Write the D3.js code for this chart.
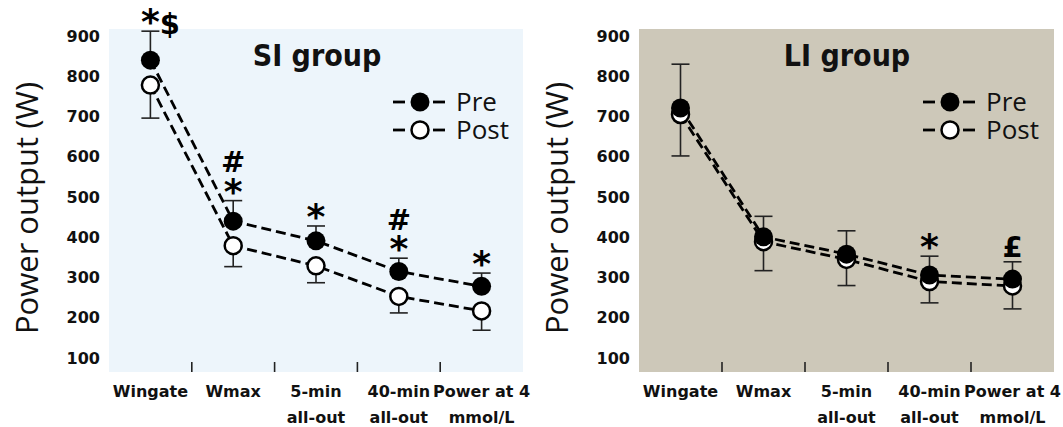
<!DOCTYPE html>
<html>
<head>
<meta charset="utf-8">
<script src="https://cdn.jsdelivr.net/npm/d3@7"></script>
<style>
  html, body { margin: 0; padding: 0; background: #ffffff; }
  svg { display: block; }
</style>
</head>
<body>
<svg id="chart" width="1063" height="427"></svg>
<script>
// ---------------- data ----------------
const categories = ["Wingate", "Wmax", "5-min all-out", "40-min all-out", "Power at 4 mmol/L"];
const categoryLabels = [["Wingate"], ["Wmax"], ["5-min", "all-out"], ["40-min", "all-out"], ["Power at 4", "mmol/L"]];
const yTicks = [100, 200, 300, 400, 500, 600, 700, 800, 900];
const seriesNames = ["Pre", "Post"];

const siPre      = [840, 440, 391, 315, 278];
const siPreErr   = [72, 51, 37, 33, 33];
const siPost     = [778, 379, 329, 253, 217];
const siPostErr  = [82, 52, 42, 41, 48];
const siMarks    = [["*$"], ["#", "*"], ["*"], ["#", "*"], ["*"]];

const liPre      = [721, 401, 358, 306, 296];
const liPreErr   = [109, 51, 58, 47, 43];
const liPost     = [705, 389, 345, 290, 279];
const liPostErr  = [103, 72, 65, 53, 57];
const liMarks    = [[], [], [], ["*"], ["£"]];

const panelTitles = ["SI group", "LI group"];

// ---------------- layout ----------------
const svg = d3.select("#chart");
const plotTop = 29, plotBottom = 372;
const panels = [
  { title: panelTitles[0], pre: siPre, preErr: siPreErr, post: siPost, postErr: siPostErr, marks: siMarks, bg: "#EDF5FB", x0: 109, x1: 523 },
  { title: panelTitles[1], pre: liPre, preErr: liPreErr, post: liPost, postErr: liPostErr, marks: liMarks, bg: "#CDC8B9", x0: 639, x1: 1054 }
];

const y = d3.scaleLinear().domain([100, 900]).range([358, 36]);
const bold = "'DejaVu Sans', sans-serif";
const boldCond = "'DejaVu Sans Condensed', 'DejaVu Sans', sans-serif";
const thin = "'Open Sans', 'Noto Sans', sans-serif";

panels.forEach(p => {
  const g = svg.append("g");
  const x = d3.scaleBand().domain(categories).range([p.x0, p.x1]).paddingInner(0).paddingOuter(0);
  const cx = c => x(c) + x.bandwidth() / 2;

  // background
  g.append("rect").attr("x", p.x0).attr("y", plotTop)
    .attr("width", p.x1 - p.x0).attr("height", plotBottom - plotTop)
    .attr("fill", p.bg);

  // x separators (ticks between categories)
  g.selectAll("line.sep").data(categories.slice(1)).join("line")
    .attr("x1", d => x(d)).attr("x2", d => x(d))
    .attr("y1", plotBottom - 10).attr("y2", plotBottom)
    .attr("stroke", "#222").attr("stroke-width", 1.6);

  // y axis
  const yAxis = d3.axisLeft(y).tickValues(yTicks).tickSize(0).tickPadding(9);
  const ya = g.append("g").attr("transform", `translate(${p.x0},0)`).call(yAxis);
  ya.select(".domain").remove();
  ya.selectAll("text").attr("font-family", bold).attr("font-weight", "bold")
    .attr("font-size", 16).attr("fill", "#111");

  // y title
  g.append("text")
    .attr("transform", `translate(${p.x0 - 71},208) rotate(-90)`)
    .attr("text-anchor", "middle")
    .attr("font-family", thin).attr("font-weight", 400).attr("font-size", 31)
    .attr("fill", "#111")
    .text("Power output (W)");

  // x labels
  categories.forEach((c, i) => {
    const t = g.append("text").attr("text-anchor", "middle")
      .attr("font-family", bold).attr("font-weight", "bold").attr("font-size", 16)
      .attr("fill", "#111");
    categoryLabels[i].forEach((ln, j) => {
      t.append("tspan").attr("x", cx(c)).attr("y", 397 + j * 26).text(ln);
    });
  });

  // title
  g.append("text").attr("x", p.x0 + 208).attr("y", 66).attr("text-anchor", "middle")
    .attr("font-family", boldCond).attr("font-weight", "bold").attr("font-size", 30)
    .attr("fill", "#111").text(p.title);

  // lines
  const line = d3.line().x((d, i) => cx(categories[i])).y(d => y(d));
  [p.pre, p.post].forEach(s => {
    g.append("path").datum(s).attr("d", line)
      .attr("fill", "none").attr("stroke", "#000").attr("stroke-width", 2.8)
      .attr("stroke-dasharray", "10,5");
  });

  // error bars
  const capW = 9;
  const eb = (vals, errs, dir) => {
    vals.forEach((v, i) => {
      const xx = cx(categories[i]);
      const end = v + dir * errs[i];
      g.append("line").attr("x1", xx).attr("x2", xx).attr("y1", y(v)).attr("y2", y(end))
        .attr("stroke", "#222").attr("stroke-width", 1.6);
      g.append("line").attr("x1", xx - capW).attr("x2", xx + capW).attr("y1", y(end)).attr("y2", y(end))
        .attr("stroke", "#222").attr("stroke-width", 1.6);
    });
  };
  eb(p.pre, p.preErr, 1);
  eb(p.post, p.postErr, -1);

  // markers: post first, pre on top
  g.selectAll("circle.post").data(p.post).join("circle")
    .attr("cx", (d, i) => cx(categories[i])).attr("cy", d => y(d)).attr("r", 8.5)
    .attr("fill", "#fff").attr("stroke", "#000").attr("stroke-width", 2.5);
  g.selectAll("circle.pre").data(p.pre).join("circle")
    .attr("cx", (d, i) => cx(categories[i])).attr("cy", d => y(d)).attr("r", 9.5)
    .attr("fill", "#000");

  // significance marks
  p.marks.forEach((lines, i) => {
    const xx = cx(categories[i]);
    const top = y(p.pre[i] + p.preErr[i]);
    const n = lines.length;
    lines.forEach((ln, j) => {
      const center = top - 16 - (n - 1 - j) * 23;
      const first = ln[0];
      const t = g.append("text").attr("font-family", bold)
        .attr("font-weight", "bold").attr("fill", "#000");
      [...ln].forEach(ch => {
        const fs = ch === "*" ? 36 : 29;
        t.append("tspan").attr("font-size", fs).text(ch);
      });
      const fs0 = first === "*" ? 36 : 29;
      const k0 = first === "*" ? 0.53 : 0.37;
      t.attr("y", center + k0 * fs0);
      const w0 = t.node().getSubStringLength(0, 1);
      t.attr("x", xx - w0 / 2);
    });
  });

  // legend
  const legY = [102, 130];
  seriesNames.forEach((nm, k) => {
    const ly = legY[k];
    const lg = g.append("g");
    lg.append("line").attr("x1", p.x0 + 284).attr("x2", p.x0 + 296).attr("y1", ly).attr("y2", ly)
      .attr("stroke", "#000").attr("stroke-width", 2.8);
    lg.append("line").attr("x1", p.x0 + 324).attr("x2", p.x0 + 336).attr("y1", ly).attr("y2", ly)
      .attr("stroke", "#000").attr("stroke-width", 2.8);
    if (k === 0) {
      lg.append("circle").attr("cx", p.x0 + 311).attr("cy", ly).attr("r", 9.5).attr("fill", "#000");
    } else {
      lg.append("circle").attr("cx", p.x0 + 311).attr("cy", ly).attr("r", 8.5)
        .attr("fill", "#fff").attr("stroke", "#000").attr("stroke-width", 2.5);
    }
    lg.append("text").attr("x", p.x0 + 347).attr("y", ly + 9)
      .attr("font-family", thin).attr("font-weight", 400).attr("font-size", 26)
      .attr("fill", "#111").text(nm);
  });
});
</script>
</body>
</html>
